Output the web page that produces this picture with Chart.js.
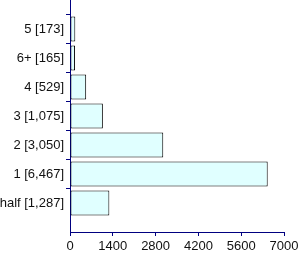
<!DOCTYPE html>
<html>
<head>
<meta charset="utf-8">
<style>
  html, body { margin: 0; padding: 0; background: #ffffff; }
  #wrap { width: 300px; height: 254px; }
</style>
<script src="https://cdn.jsdelivr.net/npm/chart.js@4/dist/chart.umd.min.js"></script>
</head>
<body>
<div id="wrap"><canvas id="c" width="300" height="254"></canvas></div>
<script>
const categories = ['5 [173]', '6+ [165]', '4 [529]', '3 [1,075]', '2 [3,050]', '1 [6,467]', 'half [1,287]'];
const values = [173, 165, 529, 1075, 3050, 6467, 1287];
const xTicks = [0, 1400, 2800, 4200, 5600, 7000];

const NAVY = '#000080';
const labels = [''].concat(categories, ['']);
const data = [null].concat(values, [null]);

new Chart(document.getElementById('c'), {
  type: 'bar',
  data: {
    labels: labels,
    datasets: [{
      data: data,
      backgroundColor: '#e0ffff',
      borderColor: '#000000',
      borderWidth: 1,
      borderSkipped: false,
      categoryPercentage: 1,
      barPercentage: 0.86
    }]
  },
  options: {
    indexAxis: 'y',
    responsive: false,
    animation: false,
    devicePixelRatio: 1,
    layout: { padding: { left: 0, top: 0, right: 16, bottom: 0 } },
    plugins: { legend: { display: false }, tooltip: { enabled: false } },
    scales: {
      y: {
        type: 'category',
        offset: false,
        z: 1,
        ticks: {
          autoSkip: false,
          padding: 2,
          color: '#111111',
          font: { family: 'Liberation Sans, Arial, sans-serif', size: 13 }
        },
        grid: {
          drawOnChartArea: false,
          drawTicks: true,
          tickLength: 4,
          color: NAVY,
          tickColor: (ctx) => (ctx.index === 0 || ctx.index === labels.length - 1) ? 'rgba(0,0,0,0)' : NAVY
        },
        border: { color: NAVY, width: 1 },
        afterFit: (s) => { s.width = 70; s.paddingTop = 0; s.paddingBottom = 0; }
      },
      x: {
        type: 'linear',
        min: 0,
        max: 7000,
        z: 1,
        afterBuildTicks: (s) => { s.ticks = xTicks.map(v => ({ value: v })); },
        ticks: {
          padding: 3,
          color: '#111111',
          font: { family: 'Liberation Sans, Arial, sans-serif', size: 13 },
          maxRotation: 0,
          autoSkip: false,
          callback: (v) => String(v)
        },
        grid: {
          drawOnChartArea: false,
          drawTicks: true,
          tickLength: 4,
          color: NAVY,
          tickColor: NAVY
        },
        border: { color: NAVY, width: 1 },
        afterFit: (s) => { s.height = 22; s.paddingLeft = 0; s.paddingRight = 0; }
      }
    }
  }
});
</script>
</body>
</html>
